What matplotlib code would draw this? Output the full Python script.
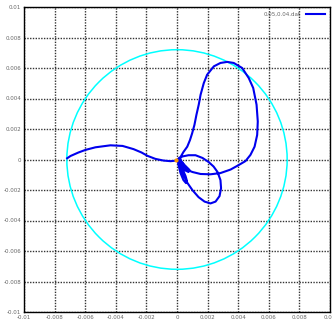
import matplotlib
matplotlib.use('Agg')
import matplotlib.pyplot as plt
from matplotlib.patches import Circle
import numpy as np

# trajectory (x, y in data units)
traj_x = [
  # run in from the left
  -0.00718, -0.00696, -0.00644, -0.00598, -0.00533, -0.00435, -0.00356, -0.00284,
  -0.00232, -0.00193, -0.00141, -0.00088, -0.00042, -0.00003,
  # big upper loop
  0.00010, 0.00023, 0.00042, 0.00067, 0.00085, 0.00099, 0.00114, 0.00127, 0.00142,
  0.00154, 0.00175, 0.00197, 0.00241, 0.00284, 0.00328, 0.00371, 0.00426, 0.00469,
  0.00498, 0.00520, 0.00528, 0.00524, 0.00507, 0.00480, 0.00448, 0.00404,
  # return below
  0.00350, 0.00284, 0.00219, 0.00154, 0.00101, 0.00069, 0.00042, 0.00016,
  # upper arc + tilted ellipse
  0.00010, 0.00036, 0.00075, 0.00121, 0.00167, 0.00206, 0.00239, 0.00265, 0.00284,
  0.00288, 0.00278, 0.00252, 0.00219, 0.00180, 0.00141, 0.00101, 0.00069, 0.00042,
  0.00023, 0.00010,
  # small loops near the origin
  0.00016, 0.00036, 0.00056, 0.00065, 0.00059, 0.00042, 0.00023, 0.00010, 0.00010,
  0.00036, 0.00062, 0.00082, 0.00075, 0.00049, 0.00023, 0.00007, 0.00023, 0.00030,
  0.00042, 0.00030, 0.00010, 0.00000,
]
traj_y = [
  0.00008, 0.00023, 0.00046, 0.00063, 0.00080, 0.00093, 0.00089, 0.00068,
  0.00046, 0.00024, 0.00004, -0.00007, -0.00011, -0.00007,
  -0.00003, 0.00016, 0.00049, 0.00084, 0.00128, 0.00172, 0.00227, 0.00293, 0.00359,
  0.00424, 0.00501, 0.00556, 0.00611, 0.00633, 0.00640, 0.00633, 0.00600, 0.00534,
  0.00469, 0.00359, 0.00249, 0.00161, 0.00084, 0.00030, -0.00010, -0.00036,
  -0.00066, -0.00089, -0.00097, -0.00095, -0.00082, -0.00069, -0.00043, -0.00016,
  0.00007, 0.00020, 0.00028, 0.00028, 0.00010, -0.00016, -0.00046, -0.00082, -0.00135,
  -0.00188, -0.00240, -0.00276, -0.00288, -0.00276, -0.00247, -0.00201, -0.00155, -0.00102,
  -0.00049, -0.00010,
  -0.00023, -0.00063, -0.00109, -0.00141, -0.00155, -0.00135, -0.00089, -0.00036, -0.00003,
  -0.00023, -0.00049, -0.00069, -0.00082, -0.00069, -0.00043, -0.00010, 0.00003, -0.00016,
  -0.00030, -0.00043, -0.00023, -0.00003,
]
end_x = [-0.00008]
end_y = [-0.00005]
radius = 0.0072

ticks = [-0.01, -0.008, -0.006, -0.004, -0.002, 0, 0.002, 0.004, 0.006, 0.008, 0.01]
tick_labels = ['-0.01', '-0.008', '-0.006', '-0.004', '-0.002', '0',
               '0.002', '0.004', '0.006', '0.008', '0.01']

fig = plt.figure(figsize=(3.32, 3.25), dpi=100)
ax = fig.add_axes([24 / 332, 13 / 325, 306 / 332, 305 / 325])

ax.add_patch(Circle((0, 0), radius, fill=False, edgecolor='#00ffff', lw=1.1, zorder=3))
ax.plot(traj_x, traj_y, color='#0000ee', lw=1.5, label='0.05,0.04.dat', zorder=4)
ax.plot(end_x, end_y, 'o', color='#ff9900', ms=2, zorder=5)

ax.set_xlim(-0.01, 0.01)
ax.set_ylim(-0.01, 0.01)
ax.set_xticks(ticks)
ax.set_xticklabels(tick_labels)
ax.set_yticks(ticks)
ax.set_yticklabels(tick_labels)
ax.tick_params(labelsize=4, colors='#666666', length=0, pad=2)
ax.grid(True, color='#333333', ls=(0, (1, 1)), lw=1.0)
for s in ax.spines.values():
  s.set_color('black')
  s.set_linewidth(1.0)

ax.legend(loc='upper right', frameon=False, fontsize=4, markerfirst=False,
          handlelength=3.5, labelcolor='#666666', borderaxespad=0.5)

fig.savefig('out.png', dpi=100)
